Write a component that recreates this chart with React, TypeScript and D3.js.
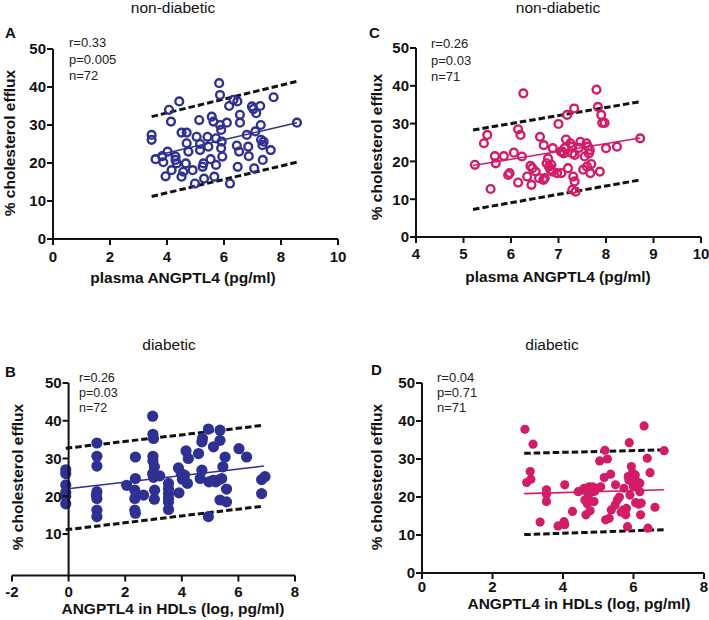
import React from "react";
import * as d3 from "d3";

// ---------- Panel A: non-diabetic, plasma ANGPTL4 ----------
const aX = [3.46,3.46,3.6,3.83,3.87,4.02,3.95,4.16,4.14,4.3,4.3,4.34,4.07,4.43,4.51,4.69,4.51,4.57,4.66,4.69,4.75,4.9,4.98,5.04,5.13,5.16,5.16,5.25,5.28,5.3,5.42,5.45,5.57,5.63,5.53,5.66,5.72,5.72,5.83,5.86,5.86,5.9,5.92,5.9,5.94,6.1,6.18,6.21,6.33,6.47,6.45,6.53,6.56,6.56,6.48,6.8,6.85,6.87,6.98,7.03,7.06,7.13,7.1,7.27,7.29,7.3,7.35,7.39,7.36,7.64,7.74,8.56];
const aY = [27.4,26.1,21,21.8,20.2,23,16.5,18.1,30.9,21.7,20.8,19.9,34,36.2,28,28,16.4,17.7,19.9,25.2,23,18.1,14.6,26.9,31.3,25,23.4,19,19.9,15.9,26.9,24.3,32.2,30.9,21,16.4,19.5,26.5,41,37.9,30,28.7,25.6,23.9,21.7,30.6,35,14.6,36.6,36.2,24.6,23,32.7,30.6,19,27.4,24.3,21.8,34.9,34.2,18.6,33.1,28.3,35,30,26.1,24.7,25.6,20.8,23.4,37.3,30.6];
const aFitX = [3.46, 8.56];
const aFitMid = [21.7, 30.6];
const aFitUp = [32.2, 41.5];
const aFitLo = [11.2, 20.2];
const aStats = ["r=0.33", "p=0.005", "n=72"];

// ---------- Panel C: non-diabetic, plasma ANGPTL4 ----------
const cX = [5.24,5.43,5.5,5.57,5.66,5.68,5.85,5.94,5.97,6.06,6.15,6.15,6.2,6.23,6.26,6.34,6.41,6.45,6.43,6.52,6.61,6.69,6.59,6.68,6.71,6.75,6.78,6.8,6.83,6.85,6.87,6.88,7.0,6.97,7.06,7.08,7.11,7.13,7.16,7.18,7.2,7.25,7.29,7.29,7.31,7.34,7.36,7.29,7.33,7.34,7.43,7.46,7.52,7.55,7.59,7.62,7.64,7.66,7.6,7.67,7.69,7.8,7.83,7.87,7.9,7.92,7.97,8.0,8.23,8.72,7.05];
const cY = [19.1,24.8,27,12.7,21.4,19.5,21.4,16.4,16.9,22.3,14.4,28.5,27,21.3,38,16,18.8,18.2,13.8,17.3,26.5,24.3,15.6,15.1,15.6,19.5,20.8,18.6,17.8,19.1,17.3,23.5,29.9,16.9,16.9,22.6,22.1,23.5,25.8,32.3,18.2,24.8,23.9,22.1,16,14.7,12,12.5,34,21.7,23.6,25.2,17.8,21.3,24.8,23.9,22.1,23,18.6,16.9,19.3,39,34.4,17.3,32.3,30.2,30.2,23.5,23.9,26.1,22.6];
const cFitX = [5.2, 8.72];
const cFitMid = [18.9, 26.2];
const cFitUp = [28.3, 35.8];
const cFitLo = [7.3, 15.1];
const cStats = ["r=0.26", "p=0.03", "n=71"];

// ---------- Panel B: diabetic, ANGPTL4 in HDLs ----------
const bX = [-0.1,-0.1,-0.1,-0.1,-0.1,-0.1,1,1,1,1,1,1,1,0.98,2.05,2.36,2.36,2.34,2.34,2.34,2.36,2.65,2.97,2.98,3.0,2.98,2.98,3.03,2.97,3.04,3.03,3.0,3.22,3.53,3.53,3.53,3.53,3.53,3.53,3.88,3.9,3.98,4.02,4.1,4.15,4.2,4.23,4.59,4.65,4.71,4.73,4.71,4.94,4.96,4.94,5.1,5.2,5.12,5.29,5.35,5.35,5.35,5.41,5.45,5.53,5.58,5.58,6.02,6.29,6.82,6.82,6.94];
const bY = [27,26,23,21,20,18,34.1,30.6,28,21.2,19.4,16.3,14.6,20.3,22.9,30.4,24.7,21.6,19.4,16.3,15.5,20.3,41.2,36.4,35.3,30.6,29.4,27.8,26,21.6,19.2,25,25.4,23.4,20.7,18.5,16.5,22,19.5,27.5,20.9,26,24.5,25.6,32,23.4,30,31.3,24.7,34.4,35.3,26.9,37.8,23.8,14.6,24.2,23.8,33.1,24.3,34.8,37.5,19,24.7,27.8,30.4,21.9,18.5,32.6,30.4,24.4,20.7,25.2];
const bFitX = [-0.1, 6.9];
const bFitMid = [21.9, 28.0];
const bFitUp = [32.7, 38.8];
const bFitLo = [11.1, 17.4];
const bStats = ["r=0.26", "p=0.03", "n=72"];

// ---------- Panel D: diabetic, ANGPTL4 in HDLs ----------
const dX = [2.92,3.15,3.07,3.09,2.97,3.35,3.53,3.53,3.53,3.86,4.03,4.05,4.05,4.27,4.43,4.6,4.62,4.65,4.69,4.74,4.77,4.79,4.84,4.88,5.07,5.04,5.17,5.19,5.21,5.26,5.31,5.35,5.37,5.48,5.49,5.54,5.71,5.73,5.78,5.83,5.85,5.88,5.87,5.94,5.97,6.0,6.03,6.06,6.11,6.15,6.2,6.18,6.18,6.22,6.3,6.39,6.41,6.47,6.61,6.87,4.55,4.95,5.6,5.8,5.9,6.05,4.72,5.65,5.95,6.1,4.9];
const dY = [37.8,33.9,26.7,24.7,23.8,13.4,21.9,20.7,18.8,12.4,13.5,12.7,23.2,16.2,21.4,22.3,19.2,15.3,18.2,22.7,16.4,21.2,22.7,18.8,22.7,29.5,25.1,32.3,14,30,14.4,26,16.6,17.9,23.2,19.2,16.6,22.3,15.3,12.2,25.4,34.3,24.5,28,26.4,22.7,25.4,18.5,24,18.1,15.3,21.4,23.6,18.4,38.7,30.2,11.8,26.4,17.3,32.2,21.8,22.3,20,17,20.5,25.8,20.5,16,24,23,21.5];
const dFitX = [2.9, 6.87];
const dFitMid = [20.9, 21.9];
const dFitUp = [31.5, 32.4];
const dFitLo = [10.1, 11.4];
const dStats = ["r=0.04", "p=0.71", "n=71"];

// Axis tick values
const ticksX_A = [0, 2, 4, 6, 8, 10];
const ticksX_C = [4, 5, 6, 7, 8, 9, 10];
const ticksX_B = [-2, 0, 2, 4, 6, 8];
const ticksX_D = [0, 2, 4, 6, 8];
const ticksY_full = [0, 10, 20, 30, 40, 50];
const ticksY_B = [10, 20, 30, 40, 50];

const titles = ["non-diabetic", "non-diabetic", "diabetic", "diabetic"];
const letters = ["A", "C", "B", "D"];
const xTitles = ["plasma ANGPTL4 (pg/ml)", "plasma ANGPTL4 (pg/ml)", "ANGPTL4 in HDLs (log, pg/ml)", "ANGPTL4 in HDLs (log, pg/ml)"];
const yTitle = "% cholesterol efflux";

const NAVY = "#2E3192";
const PINK = "#D21C68";
const FONT = "'Liberation Sans', Arial, Helvetica, sans-serif";

type PanelProps = {
  xs: number[]; ys: number[];
  fitX: number[]; fitMid: number[]; fitUp: number[]; fitLo: number[];
  stats: string[];
  xDomain: [number, number]; xRange: [number, number];
  yDomain: [number, number]; yRange: [number, number];
  xTicks: number[]; yTicks: number[]; xTickOff: number;
  color: string; filled: boolean; r: number;
  title: string; titleX: number; titleY: number;
  letter: string; letterX: number; letterY: number;
  statsX: number; statsY: number; statsDy: number; statsSize: number;
  xTitle: string; xTitleX: number; xTitleY: number;
  yTitleX: number; yTitleY: number;
};

function Panel(p: PanelProps) {
  const x = d3.scaleLinear().domain(p.xDomain).range(p.xRange);
  const y = d3.scaleLinear().domain(p.yDomain).range(p.yRange);
  const axisX = p.xDomain[0] < 0 ? x(0) : p.xRange[0];
  const axisY = p.yRange[0];
  const line = d3.line<[number, number]>().x(d => x(d[0])).y(d => y(d[1]));
  const seg = (vals: number[]) => line(p.fitX.map((fx, i) => [fx, vals[i]] as [number, number])) || "";
  const pts = p.xs.map((v, i) => [v, p.ys[i]] as [number, number]);
  return (
    <g fontFamily={FONT}>
      <text x={p.titleX} y={p.titleY} fontSize={15.5} textAnchor="middle" fill="#111">{p.title}</text>
      <text x={p.letterX} y={p.letterY} fontSize={15} fontWeight="bold" fill="#111">{p.letter}</text>
      {p.stats.map((s, i) => (
        <text key={s} x={p.statsX} y={p.statsY + i * p.statsDy} fontSize={p.statsSize} fill="#222">{s}</text>
      ))}
      <path d={seg(p.fitUp)} stroke="#111" strokeWidth={3} strokeDasharray="6.5,3" fill="none" />
      <path d={seg(p.fitLo)} stroke="#111" strokeWidth={3} strokeDasharray="6.5,3" fill="none" />
      {pts.map((d, i) => (
        <circle key={i} cx={x(d[0])} cy={y(d[1])} r={p.r}
          fill={p.filled ? p.color : "none"} stroke={p.color} strokeWidth={p.filled ? 0 : 2.4} />
      ))}
      <path d={seg(p.fitMid)} stroke={p.color} strokeWidth={1.6} fill="none" />
      <line x1={p.xRange[0]} x2={p.xRange[1]} y1={axisY} y2={axisY} stroke="#111" strokeWidth={2} />
      <line x1={axisX} x2={axisX} y1={axisY} y2={p.yRange[1]} stroke="#111" strokeWidth={2} />
      {p.xTicks.map(t => (
        <g key={"x" + t}>
          <line x1={x(t)} x2={x(t)} y1={axisY} y2={axisY + 6} stroke="#111" strokeWidth={2} />
          <text x={x(t)} y={axisY + p.xTickOff} fontSize={15} fontWeight="bold" textAnchor="middle" fill="#111">{t}</text>
        </g>
      ))}
      {p.yTicks.map(t => (
        <g key={"y" + t}>
          <line x1={axisX - 6} x2={axisX} y1={y(t)} y2={y(t)} stroke="#111" strokeWidth={2} />
          <text x={axisX - 7} y={y(t) + 5.4} fontSize={15} fontWeight="bold" textAnchor="end" fill="#111">{t}</text>
        </g>
      ))}
      <text x={p.xTitleX} y={p.xTitleY} fontSize={15.5} fontWeight="bold" textAnchor="middle" fill="#111">{p.xTitle}</text>
      <text transform={`translate(${p.yTitleX},${p.yTitleY}) rotate(-90)`} fontSize={15.5} fontWeight="bold" textAnchor="middle" fill="#111">{yTitle}</text>
    </g>
  );
}

export default function App() {
  return (
    <svg width={709} height={620} style={{ position: "absolute", left: 0, top: 0, background: "#fff" }}>
      <rect width={709} height={620} fill="#fff" />
      <Panel xs={aX} ys={aY} fitX={aFitX} fitMid={aFitMid} fitUp={aFitUp} fitLo={aFitLo} stats={aStats}
        xDomain={[0, 10]} xRange={[53, 338]} yDomain={[0, 50]} yRange={[239, 49]}
        xTicks={ticksX_A} yTicks={ticksY_full} xTickOff={23} color={NAVY} filled={false} r={3.9}
        title={titles[0]} titleX={173} titleY={13} letter={letters[0]} letterX={5} letterY={38}
        statsX={69} statsY={47} statsDy={16.7} statsSize={13}
        xTitle={xTitles[0]} xTitleX={183} xTitleY={283} yTitleX={15} yTitleY={143} />
      <Panel xs={cX} ys={cY} fitX={cFitX} fitMid={cFitMid} fitUp={cFitUp} fitLo={cFitLo} stats={cStats}
        xDomain={[4, 10]} xRange={[416, 701]} yDomain={[0, 50]} yRange={[237, 48]}
        xTicks={ticksX_C} yTicks={ticksY_full} xTickOff={21.5} color={PINK} filled={false} r={3.9}
        title={titles[1]} titleX={558} titleY={13} letter={letters[1]} letterX={369} letterY={38}
        statsX={431} statsY={48} statsDy={16.7} statsSize={13}
        xTitle={xTitles[1]} xTitleX={558} xTitleY={282} yTitleX={382} yTitleY={147} />
      <Panel xs={bX} ys={bY} fitX={bFitX} fitMid={bFitMid} fitUp={bFitUp} fitLo={bFitLo} stats={bStats}
        xDomain={[-2, 8]} xRange={[12, 295]} yDomain={[-1, 50]} yRange={[575.5, 383]}
        xTicks={ticksX_B} yTicks={ticksY_B} xTickOff={21.5} color={NAVY} filled={true} r={5.6}
        title={titles[2]} titleX={169} titleY={350} letter={letters[2]} letterX={5} letterY={377}
        statsX={79} statsY={382} statsDy={15} statsSize={12.5}
        xTitle={xTitles[2]} xTitleX={173} xTitleY={614} yTitleX={23} yTitleY={477} />
      <Panel xs={dX} ys={dY} fitX={dFitX} fitMid={dFitMid} fitUp={dFitUp} fitLo={dFitLo} stats={dStats}
        xDomain={[0, 8]} xRange={[422, 704]} yDomain={[0, 50]} yRange={[573, 383]}
        xTicks={ticksX_D} yTicks={ticksY_full} xTickOff={19} color={PINK} filled={true} r={4.6}
        title={titles[3]} titleX={552} titleY={350} letter={letters[3]} letterX={371} letterY={375}
        statsX={437} statsY={382} statsDy={15} statsSize={13}
        xTitle={xTitles[3]} xTitleX={579} xTitleY={609} yTitleX={382} yTitleY={477} />
    </svg>
  );
}
